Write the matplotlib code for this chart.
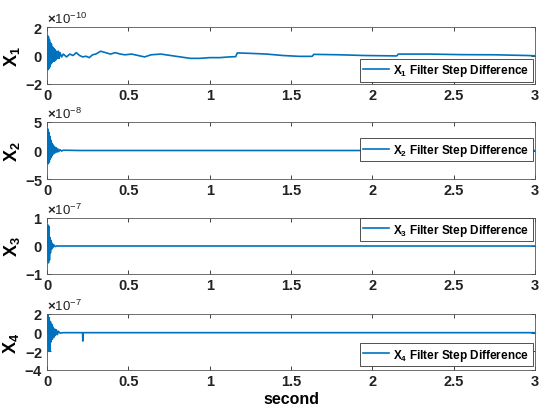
import matplotlib
matplotlib.use("Agg")
import matplotlib.pyplot as plt
from matplotlib.ticker import ScalarFormatter

plt.rcParams['font.family'] = ['Liberation Sans', 'DejaVu Sans']
plt.rcParams['font.weight'] = 'bold'
plt.rcParams['mathtext.fontset'] = 'custom'
plt.rcParams['mathtext.rm'] = 'Liberation Sans'
plt.rcParams['mathtext.bf'] = 'Liberation Sans:weight=bold'
plt.rcParams['mathtext.it'] = 'Liberation Sans:italic'

# time (s) and values
t1 = [0, 0.003, 0.006, 0.009, 0.012, 0.015, 0.018, 0.021, 0.024, 0.027,
      0.030, 0.034, 0.038, 0.042, 0.046, 0.050, 0.055, 0.060, 0.065, 0.070,
      0.075, 0.080, 0.090, 0.10, 0.12, 0.14, 0.16, 0.18, 0.20, 0.22,
      0.24, 0.26, 0.28, 0.30, 0.33, 0.36, 0.39, 0.42, 0.45, 0.48,
      0.52, 0.56, 0.60, 0.64, 0.70, 0.76, 0.82, 0.88, 0.94, 1.00,
      1.06, 1.12, 1.16, 1.17, 1.25, 1.35, 1.45, 1.55, 1.63, 1.64,
      1.80, 1.95, 2.15, 2.16, 2.35, 2.55, 2.75, 2.95, 3.0]
x1 = [0, 1.4, -1.0, 1.3, -0.9, 1.1, -0.8, 0.9, -0.6, 0.8,
      -0.5, 0.6, -0.4, 0.5, -0.4, 0.4, -0.3, 0.3, -0.2, 0.3,
      -0.2, 0.2, -0.1, 0.1, -0.1, 0.1, 0.0, 0.2, 0.0, -0.1,
      -0.05, -0.15, 0.05, 0.1, 0.3, 0.2, 0.1, 0.2, 0.1, 0.05,
      0.1, 0.0, -0.1, 0.05, 0.1, 0.0, -0.1, -0.2, -0.2, -0.15,
      -0.15, -0.1, -0.08, 0.18, 0.15, 0.1, 0.0, -0.06, -0.06, 0.08,
      0.05, 0.0, -0.03, 0.1, 0.1, 0.06, 0.05, 0.0, -0.02]   # x1e-10

t2 = [0, 0.004, 0.008, 0.011, 0.014, 0.017, 0.020, 0.023, 0.026, 0.029,
      0.032, 0.036, 0.040, 0.045, 0.050, 0.055, 0.060, 0.066, 0.072, 0.080,
      0.090, 0.10, 0.2, 3.0]
x2 = [0, 3.8, -2.3, 3.2, -2.0, 2.5, -1.5, 1.8, -1.2, 1.3,
      -0.9, 1.0, -0.6, 0.7, -0.4, 0.5, -0.3, 0.3, -0.2, 0.15,
      -0.1, 0.05, 0.0, 0.0]   # x1e-8

t3 = [0, 0.006, 0.009, 0.012, 0.015, 0.018, 0.021, 0.024, 0.028, 0.032,
      0.036, 0.042, 0.05, 0.06, 3.0]
x3 = [0, 0.75, -0.6, 0.7, -0.5, 0.3, -0.25, 0.2, -0.12, 0.1,
      -0.05, 0.04, -0.02, 0.0, 0.0]   # x1e-7

t4 = [0, 0.005, 0.009, 0.013, 0.017, 0.021, 0.025, 0.029, 0.033, 0.037,
      0.042, 0.047, 0.052, 0.058, 0.064, 0.07, 0.08, 0.1, 0.219, 0.22,
      0.221, 0.222, 3.0]
x4 = [0, 2.0, -2.0, 1.6, -2.0, 1.2, -1.0, 0.9, -0.7, 0.6,
      -0.5, 0.4, -0.3, 0.3, -0.2, 0.15, -0.05, 0.0, 0.0, -0.9,
      -0.3, 0.0, 0.0]   # x1e-7

series = [(t1, x1, 1e-10, [-2, 0, 2]),
          (t2, x2, 1e-8, [-5, 0, 5]),
          (t3, x3, 1e-7, [-1, 0, 1]),
          (t4, x4, 1e-7, [-4, -2, 0, 2])]
xticks = [0, 0.5, 1, 1.5, 2, 2.5, 3]
xticklabels = ['0', '0.5', '1', '1.5', '2', '2.5', '3']

# axes boxes in figure pixels (top, bottom)
boxes = [(28, 85), (123, 180), (219, 275), (315, 371)]
# legend anchors (loc, y in axes coords)
legs = [('lower right', 0.04), ('lower right', 0.31), ('upper right', 1.0), ('lower right', 0.07)]

W, H = 540, 406
fig = plt.figure(figsize=(W / 100, H / 100), dpi=100)
blue = '#0072BD'
edge = '#555555'

for i, (t, v, sc, yt) in enumerate(series):
    top, bot = boxes[i]
    ax = fig.add_axes([47 / W, 1 - bot / H, (535 - 47) / W, (bot - top) / H])
    ax.plot(t, [a * sc for a in v], color=blue, lw=1.2,
            label=r'$\mathbf{X_%d}$ Filter Step Difference' % (i + 1))
    ax.set_xlim(0, 3)
    ax.set_ylim(yt[0] * sc, yt[-1] * sc)
    ax.set_yticks([a * sc for a in yt])
    ax.set_xticks(xticks)
    ax.set_xticklabels(xticklabels)
    fmt = ScalarFormatter(useMathText=True)
    ax.yaxis.set_major_formatter(fmt)
    ax.yaxis.get_offset_text().set_fontsize(9.5)
    ax.yaxis.get_offset_text().set_fontweight('normal')
    ax.tick_params(direction='in', top=True, right=True, labelsize=10.5,
                   length=3, width=0.6, colors='#222222', pad=3)
    for lab in ax.get_xticklabels() + ax.get_yticklabels():
        lab.set_fontweight('bold')
    for s in ax.spines.values():
        s.set_color(edge)
        s.set_linewidth(0.6)
    ax.set_ylabel(r'$\mathbf{X_%d}$' % (i + 1), fontsize=13, labelpad=2)
    loc, ly = legs[i]
    lg = ax.legend(loc=loc, bbox_to_anchor=(0.995, ly), fontsize=8.5,
                   fancybox=False, framealpha=1, edgecolor='#333333',
                   handlelength=2.2, borderpad=0.3, borderaxespad=0,
                   handletextpad=0.3)
    lg.get_frame().set_linewidth(0.6)
    if i == 3:
        ax.set_xlabel('second', fontsize=11.5, fontweight='bold', labelpad=2)

fig.savefig('out.png', dpi=100)
